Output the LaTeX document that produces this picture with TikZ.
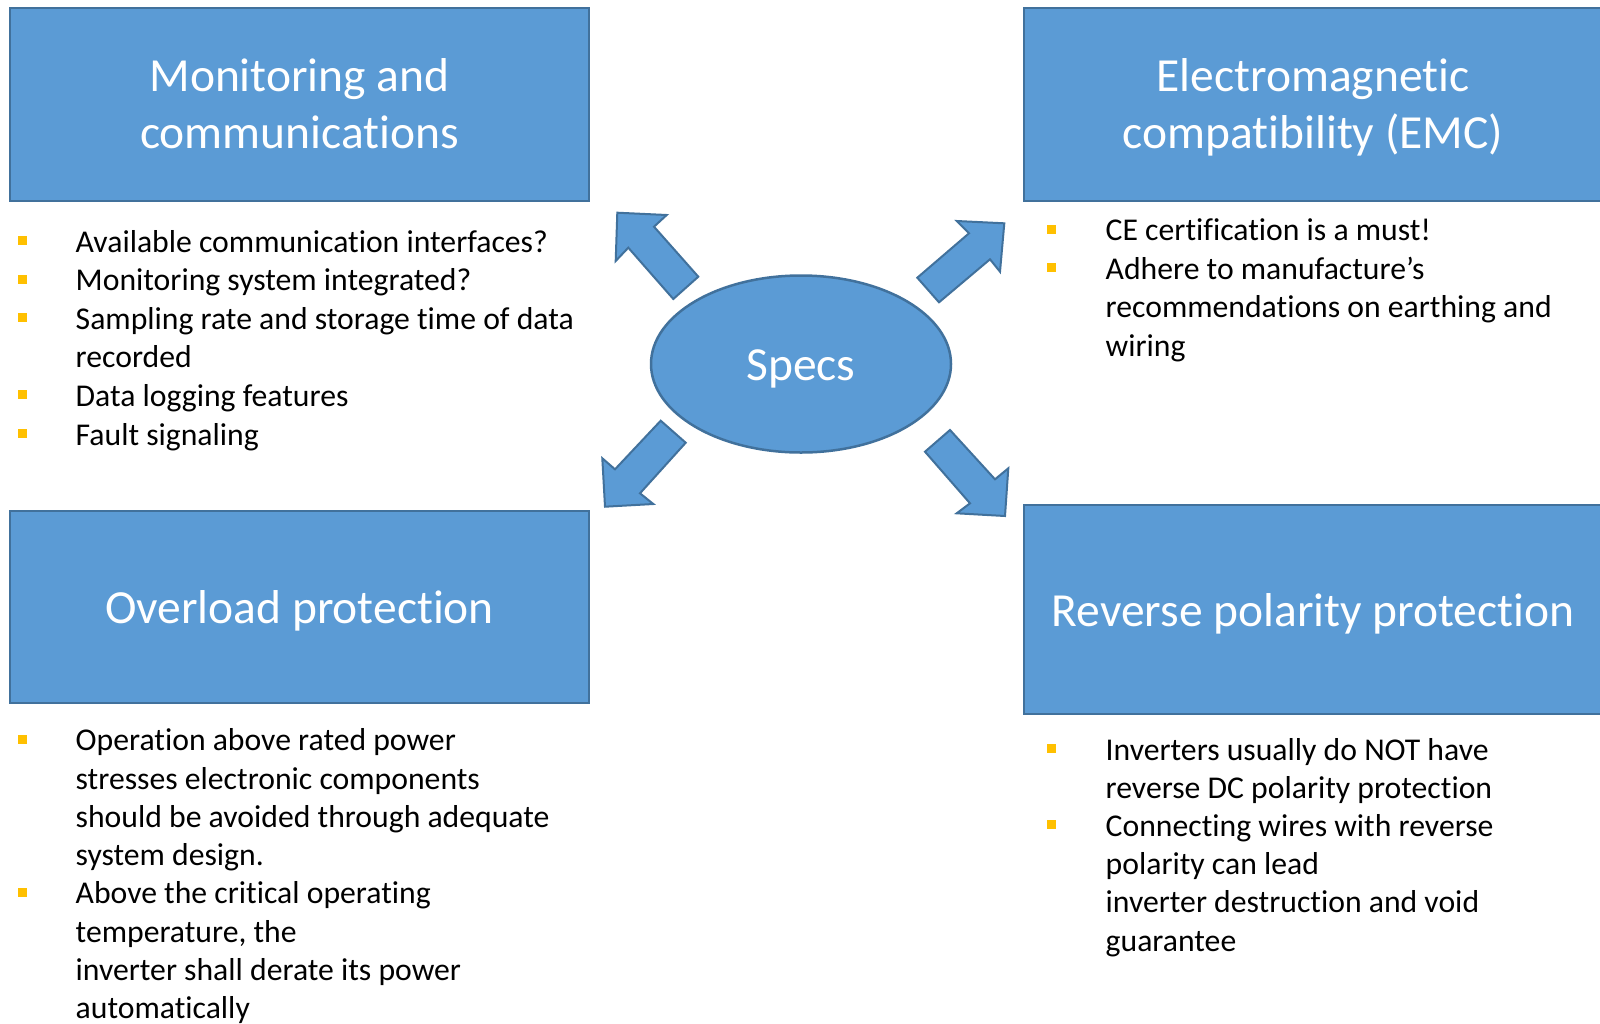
\documentclass[tikz,border=0pt]{standalone}
\usepackage{fontspec}
\setmainfont[Ligatures=CommonOff]{Carlito}
\usetikzlibrary{shapes.geometric}
\definecolor{boxfill}{HTML}{5B9BD5}
\definecolor{boxline}{HTML}{41719C}
\definecolor{bulcol}{HTML}{FFC000}
\newcommand\mytitlefont{\fontsize{47.5}{57}\selectfont}
\newcommand\mybodyfont{\fontsize{31.7}{38}\selectfont}
\tikzset{
  bluebox/.style={draw=boxline, fill=boxfill, line width=2.5pt, rectangle, inner sep=0pt, outer sep=0pt},
  titletxt/.style={anchor=base, inner sep=0pt, text=white, font=\mytitlefont},
  bodytxt/.style={anchor=base west, inner sep=0pt, text=black, font=\mybodyfont},
  bulletsq/.style={fill=bulcol, rectangle, minimum size=9pt, inner sep=0pt, outer sep=0pt},
  blockarrow/.style={draw=boxline, fill=boxfill, line width=2pt, line join=miter}
}
\begin{document}
\begin{tikzpicture}[x=1pt,y=-1pt]
\useasboundingbox (0,0) rectangle (1600,1023);
\fill[white] (0,0) rectangle (1600,1023);
% boxes
\node[bluebox, minimum width=579pt, minimum height=193pt] (tlbox) at (299.5,104.5) {};
\node[bluebox, minimum width=581pt, minimum height=193pt] (trbox) at (1314.5,104.5) {};
\node[bluebox, minimum width=579pt, minimum height=192pt] (blbox) at (299.5,607) {};
\node[bluebox, minimum width=581pt, minimum height=209pt] (brbox) at (1314.5,609.5) {};
% ellipse
\node[ellipse, draw=boxline, fill=boxfill, line width=2.5pt, minimum width=300pt, minimum height=177pt, inner sep=0pt] (specs) at (801,364) {};
\node[titletxt] (specstxt) at (801,380.5) {Specs};
% titles
\node[titletxt] (tlt1) at (299.5,91.5) {Monitoring and};
\node[titletxt] (tlt2) at (299.5,148.5) {communications};
\node[titletxt] (trt1) at (1313,91.5) {Electromagnetic};
\node[titletxt] (trt2) at (1313,148.5) {compatibility (EMC)};
\node[titletxt] (blt1) at (299.5,623) {Overload protection};
\node[titletxt] (brt1) at (1313,626) {Reverse polarity protection};
% arrows
\draw[blockarrow] (617.3,212.7) -- (666.7,215) -- (654,226.7) -- (698.3,276.7) -- (673.3,299) -- (628.3,247.7) -- (615.7,261) -- cycle;
\draw[blockarrow] (1004.3,223.3) -- (1000,271.7) -- (990,259.3) -- (939,302.3) -- (917.3,277.7) -- (969,233.3) -- (956.7,221) -- cycle;
\draw[blockarrow] (605,506.7) -- (602.3,458.3) -- (615,469.3) -- (660.7,420.7) -- (685.7,442.7) -- (640,493.3) -- (653.3,504) -- cycle;
\draw[blockarrow] (1005,516) -- (956.7,513.3) -- (970,503.3) -- (925,451.7) -- (950,430) -- (995,479.3) -- (1008.3,468.3) -- cycle;
% TL list
\node[bulletsq] (tlb1) at (22,240.5) {};
\node[bodytxt] (tll1) at (75.5,252) {Available communication interfaces?};
\node[bulletsq] (tlb2) at (22,279.1) {};
\node[bodytxt] (tll2) at (75.5,290.6) {Monitoring system integrated?};
\node[bulletsq] (tlb3) at (22,317.7) {};
\node[bodytxt] (tll3) at (75.5,329.2) {Sampling rate and storage time of data};
\node[bodytxt] (tll4) at (75.5,367.8) {recorded};
\node[bulletsq] (tlb4) at (22,394.9) {};
\node[bodytxt] (tll5) at (75.5,406.4) {Data logging features};
\node[bulletsq] (tlb5) at (22,433.5) {};
\node[bodytxt] (tll6) at (75.5,445) {Fault signaling};
% TR list
\node[bulletsq] (trb1) at (1051.5,229) {};
\node[bodytxt] (trl1) at (1105.5,240.5) {CE certification is a must!};
\node[bulletsq] (trb2) at (1051.5,267.5) {};
\node[bodytxt] (trl2) at (1105.5,279) {Adhere to manufacture’s};
\node[bodytxt] (trl3) at (1105.5,317.5) {recommendations on earthing and};
\node[bodytxt] (trl4) at (1105.5,356) {wiring};
% BL list
\node[bulletsq] (blb1) at (22,739.3) {};
\node[bodytxt] (bll1) at (75.5,750.8) {Operation above rated power};
\node[bodytxt] (bll2) at (75.5,789) {stresses electronic components};
\node[bodytxt] (bll3) at (75.5,827.3) {should be avoided through adequate};
\node[bodytxt] (bll4) at (75.5,865.6) {system design.};
\node[bulletsq] (blb2) at (22,892.4) {};
\node[bodytxt] (bll5) at (75.5,903.9) {Above the critical operating};
\node[bodytxt] (bll6) at (75.5,942.2) {temperature, the};
\node[bodytxt] (bll7) at (75.5,980.5) {inverter shall derate its power};
\node[bodytxt] (bll8) at (75.5,1018) {automatically};
% BR list
\node[bulletsq] (brb1) at (1051.5,748.5) {};
\node[bodytxt] (brl1) at (1105.5,760) {Inverters usually do NOT have};
\node[bodytxt] (brl2) at (1105.5,798.2) {reverse DC polarity protection};
\node[bulletsq] (brb2) at (1051.5,824.9) {};
\node[bodytxt] (brl3) at (1105.5,836.4) {Connecting wires with reverse};
\node[bodytxt] (brl4) at (1105.5,874.6) {polarity can lead};
\node[bodytxt] (brl5) at (1105.5,912.8) {inverter destruction and void};
\node[bodytxt] (brl6) at (1105.5,951) {guarantee};
\end{tikzpicture}
\end{document}
